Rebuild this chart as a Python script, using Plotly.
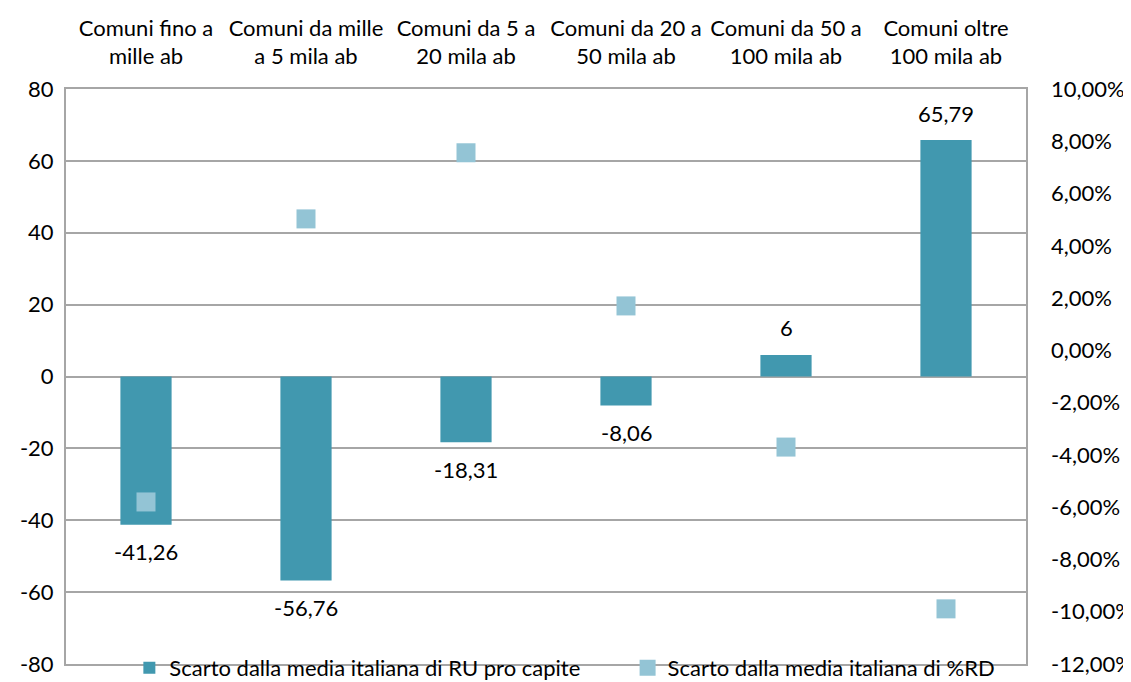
import plotly.graph_objects as go

categories = ["Comuni fino a<br>mille ab", "Comuni da mille<br>a 5 mila ab", "Comuni da 5 a<br>20 mila ab",
              "Comuni da 20 a<br>50 mila ab", "Comuni da 50 a<br>100 mila ab", "Comuni oltre<br>100 mila ab"]
ru_scarto = [-41.26, -56.76, -18.31, -8.06, 6, 65.79]
rd_scarto = [-0.058, 0.0503, 0.0756, 0.017, -0.037, -0.0989]
left_ticks = [-80, -60, -40, -20, 0, 20, 40, 60, 80]
right_ticks = [-0.12, -0.10, -0.08, -0.06, -0.04, -0.02, 0.0, 0.02, 0.04, 0.06, 0.08, 0.10]

def fmt_num(v):
    s = ("%g" % v) if float(v).is_integer() else ("%.2f" % v)
    return s.replace(".", ",")

def fmt_pct(v):
    return ("%.2f%%" % (v * 100 + 0.0)).replace("-0.00", "0.00").replace(".", ",")

FONT = "Lato, 'Open Sans', sans-serif"
FS = 22
BAR_COL = "#4198AF"
MK_COL = "#93C4D5"
GRID = "#A6A6A6"

fig = go.Figure()
fig.add_trace(go.Bar(
    x=categories, y=ru_scarto, name="Scarto dalla media italiana di RU pro capite",
    marker=dict(color=BAR_COL, line=dict(width=0)), width=0.32,
    yaxis="y", hoverinfo="skip", legend="legend",
))
fig.add_trace(go.Scatter(
    x=categories, y=rd_scarto, name="Scarto dalla media italiana di %RD",
    mode="markers", marker=dict(symbol="square", size=19, color=MK_COL),
    yaxis="y2", cliponaxis=False, legend="legend2",
))

for c, v in zip(categories, ru_scarto):
    fig.add_annotation(x=c, y=v, xref="x", yref="y", text=fmt_num(v), showarrow=False,
                       yshift=27 if v >= 0 else -27, yanchor="middle",
                       font=dict(size=FS, family=FONT, color="#000000"))

leg_common = dict(orientation="h", y=-0.007, xanchor="left", yanchor="middle",
                  font=dict(size=FS, family=FONT, color="#000000"), bgcolor="rgba(0,0,0,0)",
                  itemwidth=30)

fig.update_layout(
    width=1131, height=682,
    margin=dict(l=58, r=113, t=81, b=26, autoexpand=False),
    paper_bgcolor="white", plot_bgcolor="white",
    font=dict(family=FONT, size=FS, color="#000000"),
    showlegend=True,
    legend=dict(x=0.066, **leg_common),
    legend2=dict(x=0.585, **leg_common),
    xaxis=dict(side="top", showgrid=False, showline=True, linecolor=GRID, linewidth=2,
               mirror=True, ticks="", automargin=False, ticklabelstandoff=14,
               tickfont=dict(size=FS, family=FONT)),
    yaxis=dict(range=[-80, 80], tickvals=left_ticks, ticktext=[fmt_num(v) for v in left_ticks],
               showgrid=True, gridcolor=GRID, gridwidth=2, zeroline=False,
               showline=True, linecolor=GRID, linewidth=2, mirror=True, automargin=False,
               ticks="", ticklabelstandoff=6, tickfont=dict(size=FS, family=FONT)),
    yaxis2=dict(range=[-0.12, 0.10], overlaying="y", side="right",
                tickvals=right_ticks, ticktext=[fmt_pct(v) for v in right_ticks],
                showgrid=False, zeroline=False, showline=False, ticks="", automargin=False,
                ticklabelstandoff=24, tickfont=dict(size=FS, family=FONT)),
)

fig.write_html("out.html")
